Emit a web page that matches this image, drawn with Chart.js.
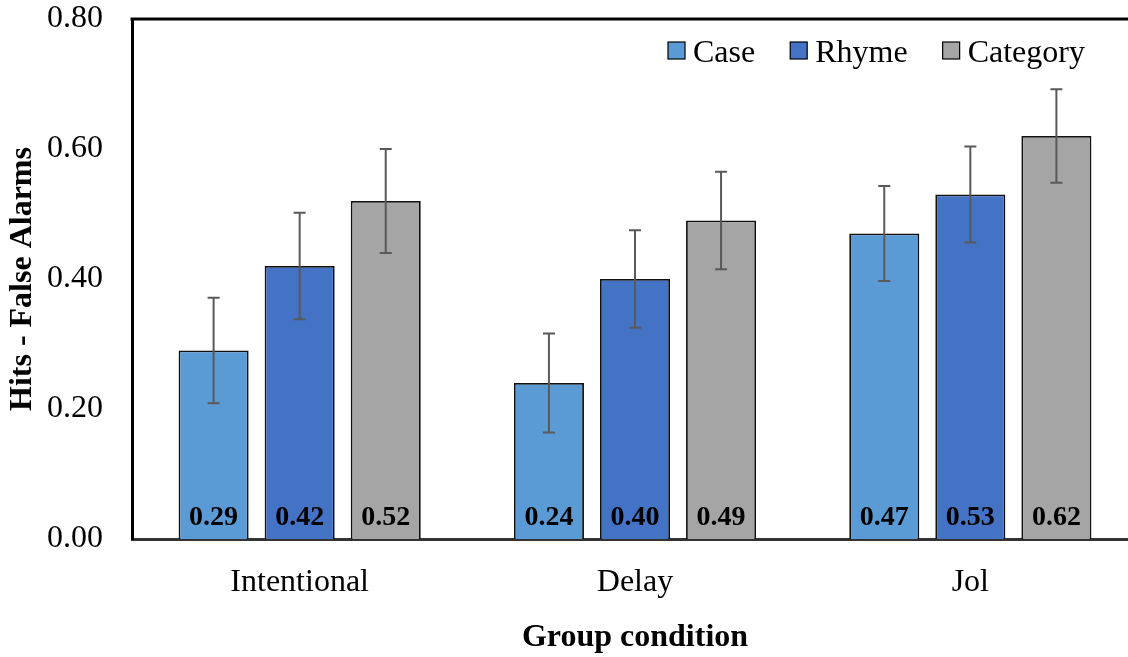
<!DOCTYPE html>
<html>
<head>
<meta charset="utf-8">
<script src="https://cdn.jsdelivr.net/npm/chart.js@4/dist/chart.umd.min.js"></script>
<style>
  html, body { margin: 0; padding: 0; background: #fff; overflow: hidden; }
  canvas { display: block; }
</style>
</head>
<body>
<canvas id="c" width="1138" height="657"></canvas>
<script>
// Group conditions on the x axis
const groups = ['Intentional', 'Delay', 'Jol'];

// Processing levels (series)
const seriesNames = ['Case', 'Rhyme', 'Category'];

// Mean hits minus false alarms per group
const caseValues = [0.29, 0.24, 0.47];
const rhymeValues = [0.42, 0.40, 0.53];
const categoryValues = [0.52, 0.49, 0.62];

// Error bar half-lengths
const caseErrors = [0.081, 0.076, 0.073];
const rhymeErrors = [0.082, 0.075, 0.074];
const categoryErrors = [0.080, 0.075, 0.072];

// Y axis ticks
const yTicks = [0.00, 0.20, 0.40, 0.60, 0.80];

const seriesColors = ['#5B9BD5', '#4472C4', '#A5A5A5'];
const serif = '"Liberation Serif", "Times New Roman", serif';

const valueSets = [caseValues, rhymeValues, categoryValues];
const errorSets = [caseErrors, rhymeErrors, categoryErrors];

// Frame line across the top of the plot area
const topBorder = {
  id: 'topBorder',
  afterDraw(chart) {
    const { ctx, chartArea } = chart;
    ctx.save();
    ctx.strokeStyle = '#000';
    ctx.lineWidth = 3;
    ctx.beginPath();
    ctx.moveTo(chartArea.left - 1.5, chartArea.top);
    ctx.lineTo(chartArea.right + 2, chartArea.top);
    ctx.stroke();
    ctx.restore();
  }
};

// Error bars with caps, positioned through the y scale
const errorBars = {
  id: 'errorBars',
  afterDatasetsDraw(chart) {
    const { ctx } = chart;
    const y = chart.scales.y;
    ctx.save();
    ctx.strokeStyle = '#595959';
    ctx.lineWidth = 2;
    chart.data.datasets.forEach((ds, di) => {
      const meta = chart.getDatasetMeta(di);
      meta.data.forEach((bar, i) => {
        const v = ds.data[i];
        const e = ds.errors[i];
        const yHi = y.getPixelForValue(v + e);
        const yLo = y.getPixelForValue(v - e);
        const x = bar.x;
        ctx.beginPath();
        ctx.moveTo(x, yHi); ctx.lineTo(x, yLo);
        ctx.moveTo(x - 6, yHi); ctx.lineTo(x + 6, yHi);
        ctx.moveTo(x - 6, yLo); ctx.lineTo(x + 6, yLo);
        ctx.stroke();
      });
    });
    ctx.restore();
  }
};

// Value labels near the base of each bar
const barLabels = {
  id: 'barLabels',
  afterDatasetsDraw(chart) {
    const { ctx } = chart;
    const y = chart.scales.y;
    const base = y.getPixelForValue(0);
    ctx.save();
    ctx.fillStyle = '#000';
    ctx.font = 'bold 28px ' + serif;
    ctx.textAlign = 'center';
    ctx.textBaseline = 'middle';
    chart.data.datasets.forEach((ds, di) => {
      const meta = chart.getDatasetMeta(di);
      meta.data.forEach((bar, i) => {
        ctx.fillText(ds.data[i].toFixed(2), bar.x, base - 21);
      });
    });
    ctx.restore();
  }
};

// Legend drawn inside the plot area, top right
const insideLegend = {
  id: 'insideLegend',
  afterDraw(chart) {
    const { ctx } = chart;
    ctx.save();
    ctx.font = '32px ' + serif;
    ctx.textBaseline = 'alphabetic';
    let x = 668;
    const boxTop = 42, box = 17, baseline = 62;
    chart.data.datasets.forEach((ds) => {
      ctx.fillStyle = ds.backgroundColor;
      ctx.fillRect(x, boxTop, box, box);
      ctx.strokeStyle = '#000';
      ctx.lineWidth = 1.2;
      ctx.strokeRect(x, boxTop, box, box);
      ctx.fillStyle = '#000';
      ctx.textAlign = 'left';
      ctx.fillText(ds.label, x + box + 8, baseline);
      x += box + 8 + ctx.measureText(ds.label).width + 35;
    });
    ctx.restore();
  }
};

new Chart(document.getElementById('c'), {
  type: 'bar',
  data: {
    labels: groups,
    datasets: seriesNames.map((name, i) => ({
      label: name,
      data: valueSets[i],
      errors: errorSets[i],
      backgroundColor: seriesColors[i],
      borderColor: '#111',
      borderWidth: 1.8,
      barPercentage: 0.814,
      categoryPercentage: 0.77
    }))
  },
  options: {
    responsive: false,
    animation: false,
    devicePixelRatio: 1,
    layout: { padding: { top: 19, right: 0, left: 0, bottom: 0 } },
    plugins: {
      legend: { display: false },
      tooltip: { enabled: false }
    },
    scales: {
      x: {
        grid: { display: false, drawTicks: false },
        border: { display: true, color: '#333', width: 3 },
        ticks: {
          color: '#000',
          font: { family: serif, size: 32 },
          padding: 24
        },
        title: {
          display: true,
          text: 'Group condition',
          color: '#000',
          font: { family: serif, size: 32, weight: 'bold' },
          padding: { top: 0, bottom: 0 }
        },
        afterFit(scale) {
          scale.height = 118;
          scale.paddingLeft = 0;
          scale.paddingRight = 0;
        }
      },
      y: {
        min: 0,
        max: 0.8,
        afterBuildTicks(scale) { scale.ticks = yTicks.map(v => ({ value: v })); },
        grid: { display: false, drawTicks: false },
        border: { display: true, color: '#000', width: 3 },
        ticks: {
          color: '#000',
          font: { family: serif, size: 32 },
          padding: 29,
          callback: (v) => Number(v).toFixed(2)
        },
        title: {
          display: true,
          text: 'Hits - False Alarms',
          color: '#000',
          font: { family: serif, size: 32, weight: 'bold' },
          padding: { top: 4, bottom: 0 }
        },
        afterFit(scale) {
          scale.width = 132;
          scale.paddingTop = 0;
          scale.paddingBottom = 0;
        }
      }
    }
  },
  plugins: [topBorder, errorBars, barLabels, insideLegend]
});
</script>
</body>
</html>
